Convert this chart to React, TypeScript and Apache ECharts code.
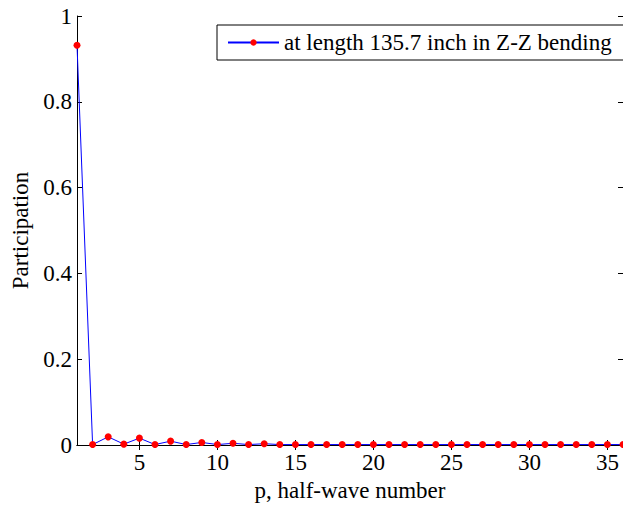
import React, { useEffect, useRef } from "react";
import * as echarts from "echarts";

const halfWaveNumbers = [
  1, 2, 3, 4, 5, 6, 7, 8, 9, 10, 11, 12, 13, 14, 15, 16, 17, 18, 19, 20, 21, 22, 23, 24, 25, 26, 27, 28, 29, 30, 31, 32, 33, 34, 35, 36,
];
const participation = [
  0.932, 0.001, 0.019, 0.002, 0.016, 0.001, 0.009, 0.001, 0.006, 0.001, 0.004, 0.001, 0.003, 0.001, 0.001, 0.001, 0.001, 0.001, 0.001,
  0.001, 0.001, 0.001, 0.001, 0.001, 0.001, 0.001, 0.001, 0.001, 0.001, 0.001, 0.001, 0.001, 0.001, 0.001, 0.001, 0.001,
];
const xTickValues = [5, 10, 15, 20, 25, 30, 35];
const seriesName = "at length 135.7 inch in Z-Z bending";

const FONT = "'Liberation Serif', 'Times New Roman', serif";
const FS = 23;

export default function App() {
  const ref = useRef<HTMLDivElement>(null);
  useEffect(() => {
    if (!ref.current) return;
    const chart = echarts.init(ref.current, undefined, { renderer: "svg" });
    const axisLine = { show: true, lineStyle: { color: "#000", width: 1 } };
    chart.setOption({
      animation: false,
      backgroundColor: "#fff",
      textStyle: { fontFamily: FONT },
      grid: { left: 77, top: 16, right: 0, bottom: 64, containLabel: false },
      legend: {
        show: true,
        left: 217,
        top: 25,
        padding: [6, 15, 6, 10],
        borderColor: "#000",
        borderWidth: 1,
        backgroundColor: "#fff",
        itemWidth: 51,
        itemHeight: 8,
        textStyle: { fontFamily: FONT, fontSize: FS, color: "#000" },
        data: [seriesName],
      },
      xAxis: [
        {
          type: "value",
          min: 1,
          max: 36,
          position: "bottom",
          name: "p, half-wave number",
          nameLocation: "middle",
          nameGap: 34,
          nameTextStyle: { fontFamily: FONT, fontSize: FS, color: "#000" },
          axisLine,
          axisTick: { show: true, inside: true, length: 5, customValues: xTickValues, lineStyle: { color: "#000" } },
          axisLabel: { show: true, customValues: xTickValues, fontFamily: FONT, fontSize: FS, color: "#000", margin: 6 },
          splitLine: { show: false },
        },
        {
          type: "value",
          min: 1,
          max: 36,
          position: "top",
          axisLine,
          axisTick: { show: true, inside: true, length: 5, customValues: xTickValues, lineStyle: { color: "#000" } },
          axisLabel: { show: false },
          splitLine: { show: false },
        },
      ],
      yAxis: [
        {
          type: "value",
          min: 0,
          max: 1,
          interval: 0.2,
          name: "Participation",
          nameLocation: "middle",
          nameGap: 44,
          nameRotate: 90,
          nameTextStyle: { fontFamily: FONT, fontSize: FS, color: "#000" },
          axisLine,
          axisTick: { show: true, inside: true, length: 5, lineStyle: { color: "#000" } },
          axisLabel: { fontFamily: FONT, fontSize: FS, color: "#000", margin: 5 },
          splitLine: { show: false },
        },
        {
          type: "value",
          min: 0,
          max: 1,
          interval: 0.2,
          position: "right",
          axisLine,
          axisTick: { show: true, inside: true, length: 5, lineStyle: { color: "#000" } },
          axisLabel: { show: false },
          splitLine: { show: false },
        },
      ],
      series: [
        {
          name: seriesName,
          type: "line",
          xAxisIndex: 0,
          yAxisIndex: 0,
          data: halfWaveNumbers.map((p, i) => [p, participation[i]]),
          symbol: "circle",
          symbolSize: 7,
          lineStyle: { color: "#0000ff", width: 1 },
          itemStyle: { color: "#ff0000", borderWidth: 0 },
          clip: false,
          z: 3,
        },
      ],
    });
    return () => chart.dispose();
  }, []);
  return <div ref={ref} style={{ position: "fixed", left: 0, top: 0, width: 623, height: 509 }} />;
}
